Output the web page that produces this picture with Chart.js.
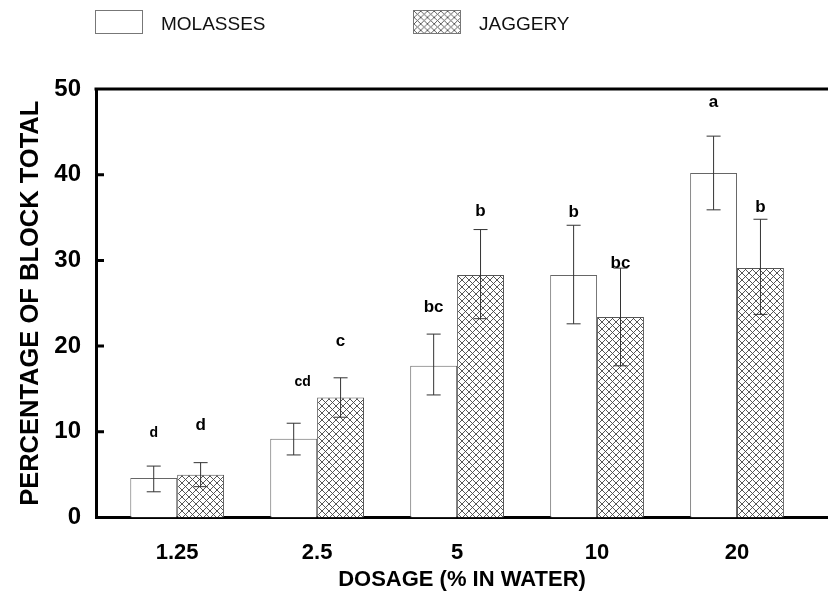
<!DOCTYPE html>
<html>
<head>
<meta charset="utf-8">
<script src="https://cdn.jsdelivr.net/npm/chart.js@4/dist/chart.umd.min.js"></script>
<style>
  body { margin: 0; background: #fff; }
  #wrap { position: relative; width: 828px; height: 592px; }
  #legend { position: absolute; left: 0; top: 0; width: 828px; height: 40px;
            font-family: "Liberation Sans", Arial, sans-serif; font-size: 19px; color: #111; }
  .item { position: absolute; top: 8px; display: flex; align-items: center; }
  .swatch { width: 48px; height: 24px; box-sizing: border-box; border: 1px solid #777; }
  .item span { margin-left: 18px; padding-top: 5px; }
</style>
</head>
<body>
<div id="wrap">
  <canvas id="chart" width="828" height="592"></canvas>
  <div id="legend">
    <div class="item" style="left:95px"><div class="swatch"></div><span>MOLASSES</span></div>
    <div class="item" style="left:413px"><canvas class="swatch" id="jagSwatch" width="48" height="24"></canvas><span>JAGGERY</span></div>
  </div>
</div>
<script>
// Data
const dosages = ['1.25', '2.5', '5', '10', '20'];
const molasses = [4.6, 9.2, 17.7, 28.3, 40.2];
const molassesHi = [6.0, 11.0, 21.4, 34.1, 44.5];
const molassesLo = [3.0, 7.3, 14.3, 22.6, 35.9];
const jaggery = [5.0, 14.0, 28.3, 23.4, 29.1];
const jaggeryHi = [6.4, 16.3, 33.6, 29.1, 34.8];
const jaggeryLo = [3.6, 11.7, 23.2, 17.7, 23.7];
const molassesLetters = ['d', 'cd', 'bc', 'b', 'a'];
const molassesLetterY = [9.9, 15.8, 24.5, 35.6, 48.4];
const jaggeryLetters = ['d', 'c', 'b', 'bc', 'b'];
const jaggeryLetterY = [10.7, 20.6, 35.7, 29.7, 36.2];
const yTicks = [0, 10, 20, 30, 40, 50];

const FONT = '"Liberation Sans", Arial, sans-serif';

// Crosshatch fill for jaggery bars
function makeHatch() {
    const c = document.createElement('canvas');
    c.width = 7; c.height = 7;
    const g = c.getContext('2d');
    g.fillStyle = '#fff';
    g.fillRect(0, 0, 7, 7);
    g.strokeStyle = '#444';
    g.lineWidth = 0.9;
    g.beginPath();
    g.moveTo(0, 0); g.lineTo(7, 7);
    g.moveTo(7, 0); g.lineTo(0, 7);
    g.stroke();
    return g.createPattern(c, 'repeat');
}
const hatch = makeHatch();

// legend swatch uses the same hatch
const sw = document.getElementById('jagSwatch').getContext('2d');
sw.fillStyle = hatch;
sw.fillRect(0, 0, 48, 24);

const errors = [
    { hi: molassesHi, lo: molassesLo, letters: molassesLetters, letterY: molassesLetterY },
    { hi: jaggeryHi, lo: jaggeryLo, letters: jaggeryLetters, letterY: jaggeryLetterY }
];

// error bars, significance letters, frame top and inner ticks
const extras = {
    id: 'extras',
    afterDatasetsDraw(chart) {
        const ctx = chart.ctx;
        const y = chart.scales.y;
        ctx.save();
        errors.forEach((e, i) => {
            chart.getDatasetMeta(i).data.forEach((bar, j) => {
                const top = y.getPixelForValue(e.hi[j]);
                const bot = y.getPixelForValue(e.lo[j]);
                ctx.strokeStyle = '#333';
                ctx.lineWidth = 1;
                ctx.beginPath();
                ctx.moveTo(bar.x, top); ctx.lineTo(bar.x, bot);
                ctx.moveTo(bar.x - 7, top); ctx.lineTo(bar.x + 7, top);
                ctx.moveTo(bar.x - 7, bot); ctx.lineTo(bar.x + 7, bot);
                ctx.stroke();

                const small = e.letters[j] === 'cd' || (i === 0 && j === 0);
                ctx.font = 'bold ' + (small ? 14 : 17) + 'px ' + FONT;
                ctx.fillStyle = '#000';
                ctx.textAlign = 'center';
                ctx.textBaseline = 'middle';
                const shift = e.letters[j] === 'cd' ? 9 : 0;
                ctx.fillText(e.letters[j], bar.x + shift, y.getPixelForValue(e.letterY[j]));
            });
        });
        const a = chart.chartArea;
        ctx.strokeStyle = '#000';
        ctx.lineWidth = 3;
        ctx.beginPath();
        ctx.moveTo(a.left - 1.5, a.top); ctx.lineTo(a.right, a.top);
        yTicks.slice(1, -1).forEach(v => {
            const py = y.getPixelForValue(v);
            ctx.moveTo(a.left, py); ctx.lineTo(a.left + 8, py);
        });
        ctx.stroke();
        ctx.restore();
    }
};

new Chart(document.getElementById('chart'), {
    type: 'bar',
    data: {
        datasets: [
            {
                label: 'MOLASSES',
                data: molasses.map((v, i) => ({ x: i, y: v })),
                backgroundColor: '#fff',
                borderColor: '#666',
                borderWidth: 1
            },
            {
                label: 'JAGGERY',
                data: jaggery.map((v, i) => ({ x: i, y: v })),
                backgroundColor: hatch,
                borderColor: '#555',
                borderWidth: 1
            }
        ]
    },
    options: {
        responsive: false,
        animation: false,
        categoryPercentage: 0.67,
        barPercentage: 1.0,
        layout: { padding: { top: 89, left: 0, right: 0, bottom: 0 } },
        plugins: { legend: { display: false }, tooltip: { enabled: false } },
        scales: {
            x: {
                type: 'linear',
                offset: false,
                min: -0.58,
                max: 4.65,
                afterFit(s) { s.height = 74.5; },
                grid: { display: false },
                border: { display: true, width: 3, color: '#000' },
                ticks: {
                    stepSize: 1,
                    includeBounds: false,
                    padding: 14,
                    color: '#000',
                    font: { family: FONT, size: 22, weight: 'bold' },
                    callback: v => Number.isInteger(v) ? dosages[v] : ''
                },
                title: {
                    display: true,
                    text: 'DOSAGE (% IN WATER)',
                    color: '#000',
                    font: { family: FONT, size: 22, weight: 'bold', lineHeight: 1.1 },
                    padding: { top: 0, bottom: 0 }
                }
            },
            y: {
                min: 0,
                max: 50,
                afterFit(s) { s.width = 96; },
                grid: { display: false },
                border: { display: true, width: 3, color: '#000' },
                ticks: {
                    stepSize: 10,
                    padding: 7,
                    color: '#000',
                    font: { family: FONT, size: 24, weight: 'bold' }
                },
                title: {
                    display: true,
                    text: 'PERCENTAGE OF BLOCK TOTAL',
                    color: '#000',
                    font: { family: FONT, size: 25.5, weight: 'bold' },
                    padding: { top: 16, bottom: 0 }
                }
            }
        }
    },
    plugins: [extras]
});
</script>
</body>
</html>
